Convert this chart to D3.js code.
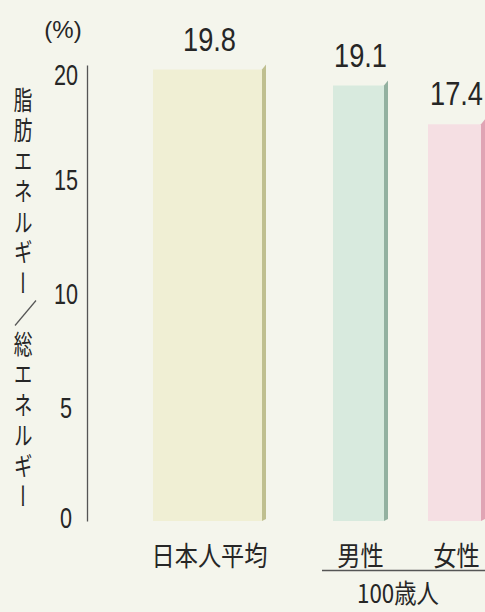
<!DOCTYPE html>
<html>
<head>
<meta charset="utf-8">
<script src="https://cdn.jsdelivr.net/npm/d3@7"></script>
<style>
  html, body { margin: 0; padding: 0; background: #f4f5ec; }
  svg { display: block; }
  text { fill: #262626; }
</style>
</head>
<body>
<script>
// ---- data ----
const categories = ["日本人平均", "男性", "女性"];
const values = [19.8, 19.1, 17.4];
const groupLabel = "100歳人";
const groupMembers = ["男性", "女性"];
const tickValues = [0, 5, 10, 15, 20];
const unitLabel = "(%)";
const yTitleParts = ["脂肪エネルギー", "総エネルギー"];
const fillColors = ["#f0efd4", "#d8eade", "#f5dfe3"];
const edgeColors = ["#bfbf90", "#93b1a0", "#e0a4b4"];

const W = 485, H = 612;
const svg = d3.select("body").append("svg").attr("width", W).attr("height", H);
svg.append("rect").attr("width", W).attr("height", H).attr("fill", "#f4f5ec");

const y = d3.scaleLinear().domain([0, 20]).range([521, 65]);
const xLeft = d3.scaleOrdinal().domain(categories).range([153, 333, 428]);
const xWidth = d3.scaleOrdinal().domain(categories).range([113, 55, 57]);
const fill = d3.scaleOrdinal().domain(categories).range(fillColors);
const edge = d3.scaleOrdinal().domain(categories).range(edgeColors);

const data = categories.map((c, i) => ({ c, v: values[i] }));

// axis
const axisX = 87;
const axis = d3.axisLeft(y).tickValues(tickValues).tickSize(0).tickPadding(0).tickFormat(d3.format("d"));
const ag = svg.append("g").attr("transform", `translate(${axisX},0)`).call(axis);
ag.select(".domain").attr("stroke", "#555").attr("stroke-width", 1.3);
ag.selectAll(".tick text")
  .attr("x", 0)
  .attr("text-anchor", "middle")
  .attr("font-family", "'Liberation Sans', Arial, sans-serif")
  .attr("font-size", 30)
  .attr("fill", "#262626")
  .attr("dy", d => d === 20 ? "0.65em" : d === 0 ? "0.22em" : "0.36em")
  .attr("transform", "translate(-21,0) scale(0.72,1)");

// bars
const bars = svg.append("g");
data.forEach(d => {
  const x0 = xLeft(d.c), w = xWidth(d.c), top = y(d.v), bot = y(0);
  bars.append("rect")
    .attr("x", x0).attr("y", top)
    .attr("width", w - 4).attr("height", bot - top)
    .attr("fill", fill(d.c));
  bars.append("polygon")
    .attr("points", [[x0 + w - 4, top], [x0 + w, top - 5], [x0 + w, bot - 2], [x0 + w - 4, bot]].map(p => p.join(",")).join(" "))
    .attr("fill", edge(d.c));
  // value label
  svg.append("text")
    .attr("transform", `translate(${x0 + w / 2},${top - 19}) scale(0.8,1)`)
    .attr("text-anchor", "middle")
    .attr("font-family", "'Liberation Sans', Arial, sans-serif")
    .attr("font-size", 34)
    .text(d3.format(".1f")(d.v));
  // category label
  svg.append("text")
    .attr("transform", `translate(${x0 + w / 2},${566}) scale(0.86,1)`)
    .attr("text-anchor", "middle")
    .attr("font-family", "'Noto Sans CJK JP', sans-serif")
    .attr("font-size", 27)
    .text(d.c);
});

// group bracket line and label
const gx0 = xLeft(groupMembers[0]) - 11;
svg.append("line")
  .attr("x1", gx0).attr("x2", W).attr("y1", 570.5).attr("y2", 570.5)
  .attr("stroke", "#555").attr("stroke-width", 1.4);
svg.append("text")
  .attr("transform", `translate(398,603) scale(0.86,1)`)
  .attr("text-anchor", "middle")
  .attr("font-family", "'Noto Sans CJK JP', sans-serif")
  .attr("font-size", 26)
  .text(groupLabel);

// unit label
svg.append("text")
  .attr("x", 63).attr("y", 38)
  .attr("text-anchor", "middle")
  .attr("font-family", "'Liberation Sans', Arial, sans-serif")
  .attr("font-size", 24)
  .text(unitLabel);

// vertical y-axis title (two vertical runs joined by a slash)
const step = 30.5, fs = 26;
const starts = [87, 87 + 8 * step];
yTitleParts.forEach((t, i) => {
  svg.append("text")
    .attr("transform", `translate(23,${starts[i]}) scale(0.72,1)`)
    .attr("x", 0).attr("y", 0)
    .style("writing-mode", "vertical-rl")
    .style("text-orientation", "upright")
    .style("letter-spacing", (step - fs) + "px")
    .attr("font-family", "'Noto Sans CJK JP', sans-serif")
    .attr("font-size", fs)
    .text(t);
});
const slashY = 87 + 7 * step + fs / 2;
svg.append("line")
  .attr("x1", 15).attr("y1", slashY + 12).attr("x2", 36).attr("y2", slashY - 13)
  .attr("stroke", "#555").attr("stroke-width", 1.2);
</script>
</body>
</html>
